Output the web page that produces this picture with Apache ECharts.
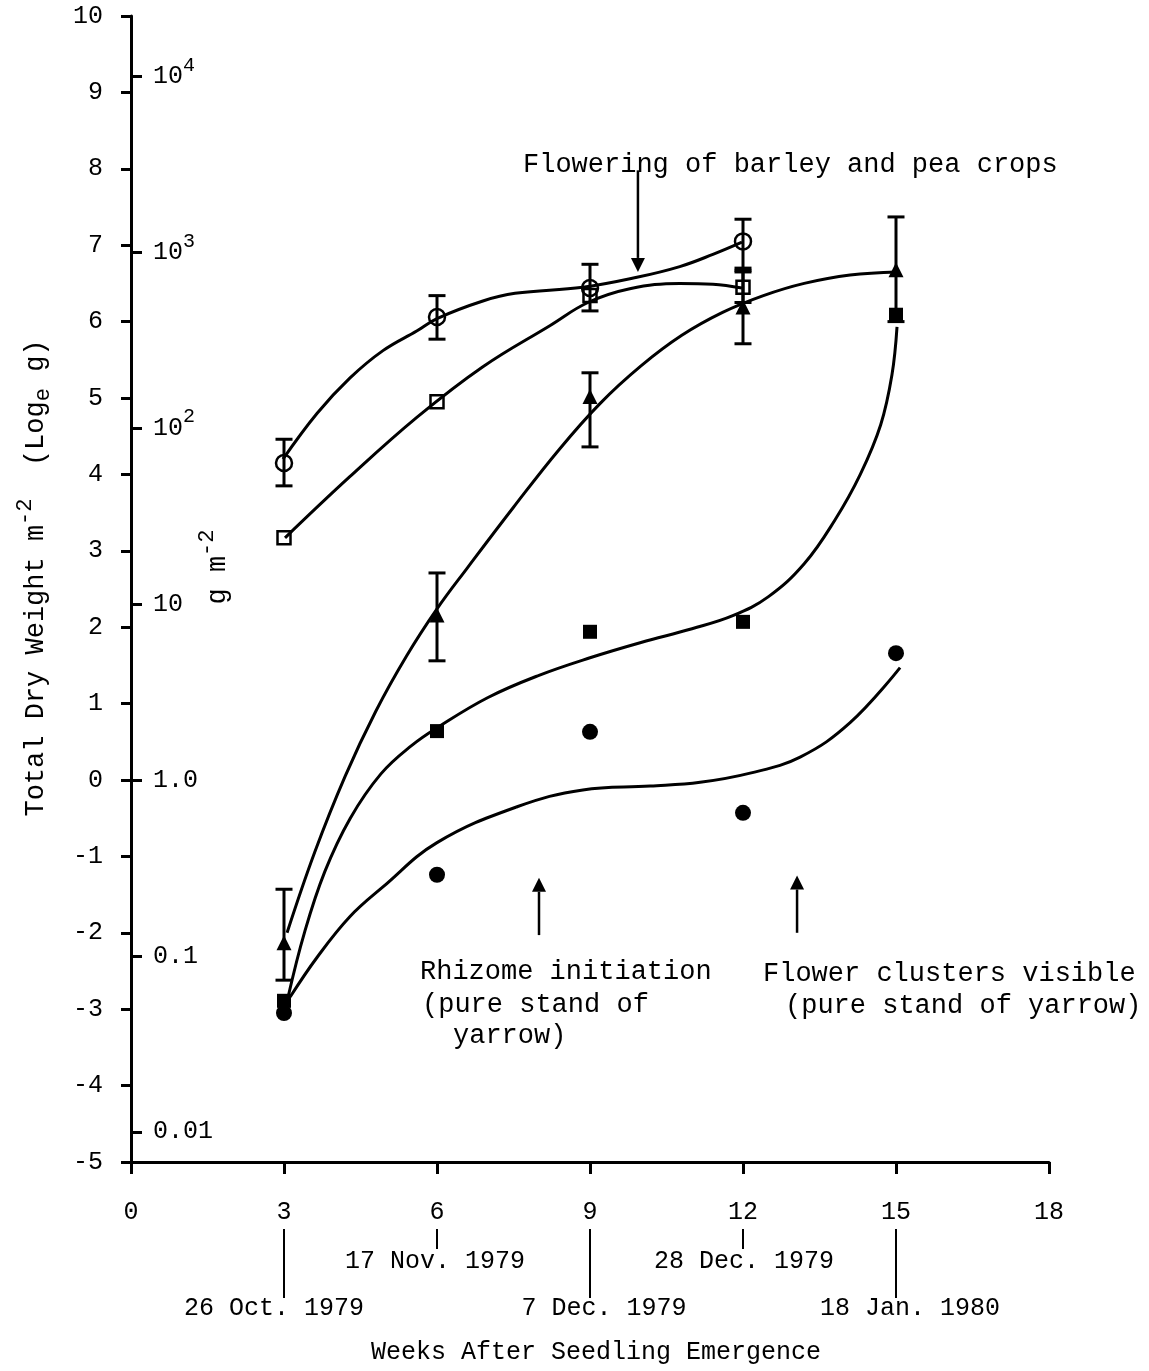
<!DOCTYPE html>
<html>
<head>
<meta charset="utf-8">
<script src="https://cdn.jsdelivr.net/npm/echarts@6/dist/echarts.min.js"></script>
<style>
  html, body { margin: 0; padding: 0; background: #fff; }
  #chart { width: 1149px; height: 1371px; }
</style>
</head>
<body>
<div id="chart"></div>
<script>
const FONT = '"Liberation Mono", "Courier New", monospace'

// weeks after seedling emergence
const weeks = [3, 6, 9, 12, 15]

// measured values, loge g m-2
const openCircle = [4.15, 6.06, 6.44, 7.05]
const openCircleLo = [3.85, 5.77, 6.14, 6.70]
const openCircleHi = [4.46, 6.34, 6.75, 7.34]
const openSquare = [3.17, 4.95, 6.34, 6.45]
const openSquareLo = [null, null, null, 6.25]
const openSquareHi = [null, null, null, 6.65]
const filledTriangle = [-2.13, 2.16, 5.02, 6.19, 6.68]
const filledTriangleLo = [-2.62, 1.56, 4.36, 5.71, 6.0]
const filledTriangleHi = [-1.43, 2.71, 5.33, 6.67, 7.37]
const filledSquare = [-2.89, 0.64, 1.94, 2.07, 6.09]
const filledCircle = [-3.05, -1.24, 0.63, -0.43, 1.66]

// fitted curves as drawn (week, loge value)
const curveOpenCircle = [[2.98, 4.2], [3.65, 4.8], [4.29, 5.26], [4.94, 5.62], [5.61, 5.88], [6.0, 6.04], [6.9, 6.27], [7.53, 6.37], [8.86, 6.45], [9.92, 6.58], [10.76, 6.72], [11.41, 6.88], [11.98, 7.04]]
const curveOpenSquare = [[3.02, 3.17], [4.29, 3.97], [5.61, 4.75], [6.9, 5.41], [8.22, 5.95], [8.96, 6.25], [9.78, 6.43], [10.76, 6.5], [11.41, 6.49], [11.98, 6.44]]
const curveTriangle = [[3.06, -2.0], [3.6, -0.95], [4.2, 0.05], [4.8, 0.9], [5.4, 1.62], [6.0, 2.24], [6.6, 2.78], [7.5, 3.57], [8.4, 4.33], [9.2, 4.93], [10.0, 5.42], [10.8, 5.82], [11.6, 6.12], [12.4, 6.34], [13.2, 6.5], [14.1, 6.61], [15.02, 6.65]]
const curveFilledSquare = [[3.08, -2.84], [3.4, -2.0], [3.8, -1.2], [4.3, -0.5], [4.9, 0.08], [5.5, 0.45], [6.04, 0.7], [7.0, 1.08], [8.0, 1.37], [9.0, 1.6], [10.0, 1.8], [11.0, 1.98], [11.8, 2.15], [12.5, 2.4], [13.2, 2.83], [13.8, 3.4], [14.3, 4.0], [14.7, 4.65], [14.92, 5.3], [15.02, 5.93]]
const curveFilledCircle = [[3.12, -2.84], [3.65, -2.32], [4.29, -1.79], [4.94, -1.4], [6.0, -0.82], [7.57, -0.35], [8.86, -0.13], [10.18, -0.08], [11.16, -0.03], [12.14, 0.09], [13.12, 0.3], [14.1, 0.75], [15.08, 1.47]]

// g m-2 scale on the same axis
const gramExponents = [-2, -1, 0, 1, 2, 3, 4]
const gramLabels = ['0.01', '0.1', '1.0', '10', '10{s|2}', '10{s|3}', '10{s|4}']
const gramTicks = gramExponents.map(k => k * Math.LN10)

// dates under the week axis
const dateWeeks = [3, 6, 9, 12, 15]
const dateLabels = ['26 Oct. 1979', '17 Nov. 1979', '7 Dec. 1979', '28 Dec. 1979', '18 Jan. 1980']

// arrows: week, tail, head (loge units)
const arrowNotes = [[9.94, 7.98, 6.65], [8.0, -2.03, -1.28], [13.06, -2.0, -1.25]]

const chart = echarts.init(document.getElementById('chart'), null, { renderer: 'canvas' })

const pairs = (ys) => ys.map((y, i) => [weeks[i], y])
const errData = (lo, hi) => lo.map((l, i) => [weeks[i], l, hi[i]]).filter(d => d[1] != null)

function curve(data) {
  return {
    type: 'line', data, smooth: 0.4, showSymbol: false, silent: true, z: 2,
    lineStyle: { color: '#000', width: 3 },
  }
}

function marks(data, symbol, size, filled) {
  return {
    type: 'scatter', data, symbol, symbolSize: size, z: 5,
    itemStyle: filled
      ? { color: '#000', opacity: 1 }
      : { color: 'rgba(0,0,0,0)', borderColor: '#000', borderWidth: 2.5, opacity: 1 },
  }
}

function errorBars(data) {
  return {
    type: 'custom', data, z: 4,
    encode: { x: 0, y: [1, 2] },
    renderItem: (params, api) => {
      const lo = api.coord([api.value(0), api.value(1)])
      const hi = api.coord([api.value(0), api.value(2)])
      const w = 8.5
      const style = { stroke: '#000', lineWidth: 3 }
      return {
        type: 'group',
        children: [
          { type: 'line', shape: { x1: lo[0], y1: lo[1], x2: hi[0], y2: hi[1] }, style },
          { type: 'line', shape: { x1: lo[0] - w, y1: lo[1], x2: lo[0] + w, y2: lo[1] }, style },
          { type: 'line', shape: { x1: hi[0] - w, y1: hi[1], x2: hi[0] + w, y2: hi[1] }, style },
        ],
      }
    },
  }
}

const axisText = { color: '#000', fontFamily: FONT, fontSize: 25 }

chart.setOption({
  animation: false,
  backgroundColor: '#fff',
  grid: { left: 131, right: 100, top: 16, bottom: 209 },
  xAxis: {
    type: 'value', min: 0, max: 18, interval: 3,
    axisLine: { onZero: false, lineStyle: { color: '#000', width: 3 } },
    axisTick: { length: 12, lineStyle: { color: '#000', width: 3 } },
    axisLabel: { ...axisText, margin: 38 },
    splitLine: { show: false },
  },
  yAxis: [
    {
      type: 'value', min: -5, max: 10, interval: 1,
      axisLine: { show: true, onZero: false, lineStyle: { color: '#000', width: 3 } },
      axisTick: { length: 10, lineStyle: { color: '#000', width: 3 } },
      axisLabel: { ...axisText, margin: 28 },
      splitLine: { show: false },
    },
    {
      type: 'value', min: -5, max: 10, position: 'left', alignTicks: false,
      axisLine: { show: false, onZero: false },
      axisTick: { show: true, inside: true, length: 11, customValues: gramTicks, lineStyle: { color: '#000', width: 3 } },
      axisLabel: {
        ...axisText, inside: true, margin: 22, customValues: gramTicks,
        formatter: (v) => {
          const i = gramTicks.findIndex(t => Math.abs(t - v) < 1e-6)
          return i < 0 ? '' : gramLabels[i]
        },
        rich: {
          s: { fontFamily: FONT, fontSize: 20, color: '#000', verticalAlign: 'bottom', padding: [0, 0, 22, 0] },
        },
      },
      splitLine: { show: false },
    },
  ],
  series: [
    curve(curveOpenCircle),
    curve(curveOpenSquare),
    curve(curveTriangle),
    curve(curveFilledSquare),
    curve(curveFilledCircle),
    errorBars(errData(openCircleLo, openCircleHi)),
    errorBars(errData(openSquareLo, openSquareHi)),
    errorBars(errData(filledTriangleLo, filledTriangleHi)),
    marks(pairs(openCircle), 'circle', 16, false),
    marks(pairs(openSquare), 'rect', 13, false),
    marks(pairs(filledTriangle), 'triangle', 15, true),
    marks(pairs(filledSquare), 'rect', 14, true),
    marks(pairs(filledCircle), 'circle', 16, true),
  ],
})

// annotations, placed with the chart's own scales
const px = (x, y) => chart.convertToPixel({ xAxisIndex: 0, yAxisIndex: 0 }, [x, y])
const graphics = []

arrowNotes.forEach(([x, tail, head]) => {
  const a = px(x, tail), b = px(x, head)
  const dir = b[1] > a[1] ? 1 : -1
  const hl = 14, hw = 7
  graphics.push({ type: 'line', shape: { x1: a[0], y1: a[1], x2: b[0], y2: b[1] - dir * hl }, style: { stroke: '#000', lineWidth: 2.5 } })
  graphics.push({ type: 'polygon', shape: { points: [[b[0], b[1]], [b[0] - hw, b[1] - dir * hl], [b[0] + hw, b[1] - dir * hl]] }, style: { fill: '#000' } })
})

const note = (text, x, y, size) => ({
  type: 'text', x, y,
  style: { text, fill: '#000', font: `${size}px ${FONT}`, textAlign: 'left', textVerticalAlign: 'middle' },
})
graphics.push(note('Flowering of barley and pea crops', 523, 165, 27))
graphics.push(note('Rhizome initiation', 420, 972, 27))
graphics.push(note('(pure stand of', 422, 1005, 27))
graphics.push(note('yarrow)', 453, 1036, 27))
graphics.push(note('Flower clusters visible', 763, 974, 27))
graphics.push(note('(pure stand of yarrow)', 785, 1006, 27))

// date labels under the axis
const dateShift = [-10, -2, 14, 1, 14]
dateWeeks.forEach((w, i) => {
  const x = px(w, -5)[0]
  const lower = i % 2 === 0
  graphics.push({ type: 'line', shape: { x1: x, y1: 1229, x2: x, y2: lower ? 1298 : 1249 }, style: { stroke: '#000', lineWidth: 2 } })
  graphics.push({
    type: 'text', x: x + dateShift[i], y: lower ? 1308 : 1261,
    style: { text: dateLabels[i], fill: '#000', font: `25px ${FONT}`, textAlign: 'center', textVerticalAlign: 'middle' },
  })
})

graphics.push({
  type: 'text', x: 596, y: 1352,
  style: { text: 'Weeks After Seedling Emergence', fill: '#000', font: `25px ${FONT}`, textAlign: 'center', textVerticalAlign: 'middle' },
})

graphics.push({
  type: 'text', x: 36, y: 578, rotation: Math.PI / 2,
  style: {
    text: 'Total Dry Weight m{s|-2}  (Log{e|e} g)',
    fill: '#000', font: `27px ${FONT}`, align: 'center', verticalAlign: 'middle',
    rich: {
      s: { fontFamily: FONT, fontSize: 22, fill: '#000', verticalAlign: 'bottom', padding: [0, 0, 22, 0] },
      e: { fontFamily: FONT, fontSize: 22, fill: '#000', verticalAlign: 'top', padding: [18, 0, 0, 0] },
    },
  },
})

graphics.push({
  type: 'text', x: 218, y: 567, rotation: Math.PI / 2,
  style: {
    text: 'g m{s|-2}',
    fill: '#000', font: `27px ${FONT}`, align: 'center', verticalAlign: 'middle',
    rich: {
      s: { fontFamily: FONT, fontSize: 22, fill: '#000', verticalAlign: 'bottom', padding: [0, 0, 22, 0] },
    },
  },
})

chart.setOption({ graphic: graphics })

window.addEventListener('resize', () => chart.resize())
</script>
</body>
</html>
